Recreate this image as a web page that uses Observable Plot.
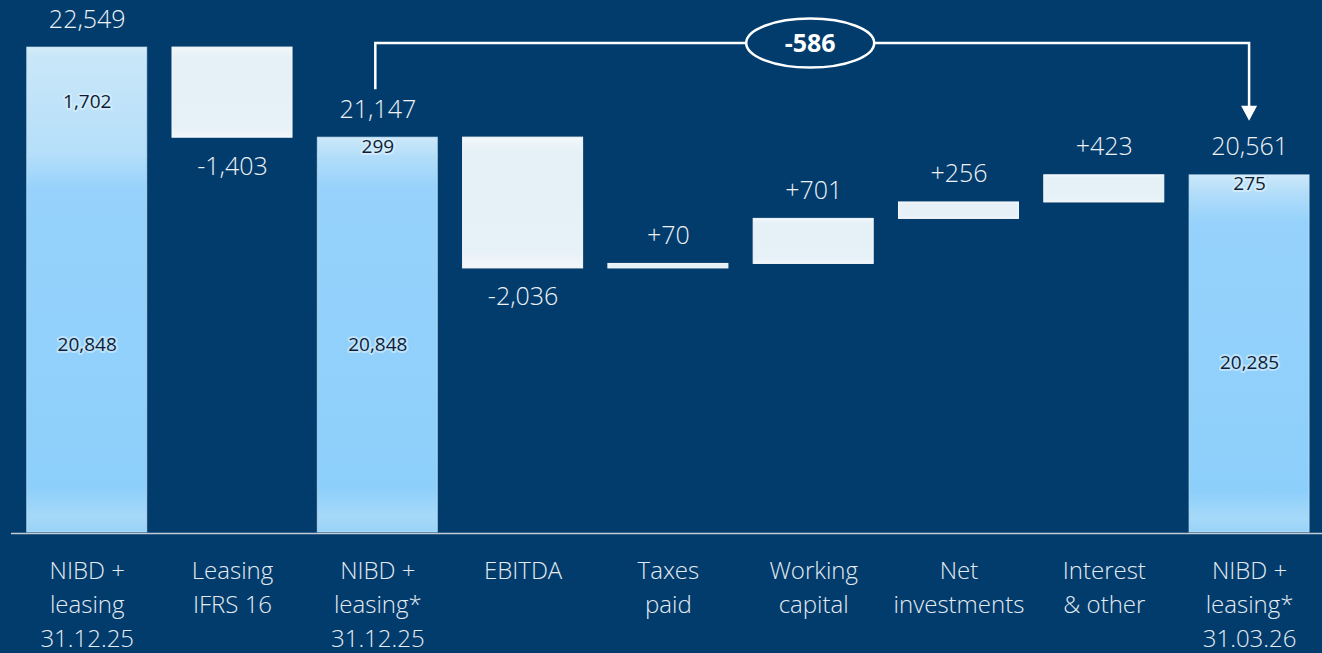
<!DOCTYPE html>
<html><head><meta charset="utf-8">
<script src="https://cdn.jsdelivr.net/npm/d3@7"></script>
<script src="https://cdn.jsdelivr.net/npm/@observablehq/plot@0.6"></script>
<style>
html,body{margin:0;padding:0;background:#023C6C;}
#chart{width:1322px;height:653px;overflow:hidden}
</style></head><body><div id="chart"></div>
<script>
// ---- data ----
const categories = [
  "NIBD +\nleasing\n31.12.25",
  "Leasing\nIFRS 16",
  "NIBD +\nleasing*\n31.12.25",
  "EBITDA",
  "Taxes\npaid",
  "Working\ncapital",
  "Net\ninvestments",
  "Interest\n& other",
  "NIBD +\nleasing*\n31.03.26"
];
const kinds = ["total","delta","total","delta","delta","delta","delta","delta","total"];
const totalValues   = [22549, null, 21147, null, null, null, null, null, 20561];
const baseValues    = [20848, null, 20848, null, null, null, null, null, 20285];
const leasingValues = [1702,  null, 299,   null, null, null, null, null, 275];
const deltaValues   = [null, -1403, null, -2036, 70, 701, 256, 423, null];
const axisStart = 15000;
const axisTop = 23282;

// ---- derived table ----
let running = 0;
const rows = categories.map((cat, i) => {
  if (kinds[i] === "total") {
    running = totalValues[i];
    return {cat, kind: "total", total: totalValues[i], base: baseValues[i], leasing: leasingValues[i]};
  }
  const y1 = running, y2 = running + deltaValues[i];
  running = y2;
  return {cat, kind: "delta", y1, y2, delta: deltaValues[i]};
});
const totals = rows.filter(d => d.kind === "total");
const deltas = rows.filter(d => d.kind === "delta");
const fmt = d3.format(",");
const signed = v => (v < 0 ? "-" : "+") + fmt(Math.abs(v));
const BG = "#023C6C";

const defsMark = () => {
  const defs = d3.create("svg:defs");
  const add = (id, stops) => {
    const g = defs.append("linearGradient").attr("id", id)
      .attr("x1", 0).attr("y1", 0).attr("x2", 0).attr("y2", 1);
    for (const [o, c] of stops) g.append("stop").attr("offset", o).attr("stop-color", c);
  };
  add("gTop", [["0%", "#D6ECF9"], ["8%", "#C9E7F9"], ["50%", "#C0E3F9"], ["100%", "#B4DEFA"]]);
  add("gBase", [["0%", "#B4DEFA"], ["9%", "#96D2FB"], ["88%", "#8DCFFB"], ["96%", "#A6D9F9"], ["100%", "#98D3F8"]]);
  add("gFloat", [["0%", "#F2F7FA"], ["12%", "#E5F0F7"], ["88%", "#E7F1F8"], ["100%", "#F3F7FA"]]);
  return defs.node();
};

const bracketMark = (index, scales) => {
  const x = scales.x, y = scales.y;
  const bw = typeof x.bandwidth === "function" ? x.bandwidth() : (x.bandwidth || 0);
  const from = totals[1], to = totals[totals.length - 1];
  const lx = x(from.cat) + bw / 2 - 2;
  const rx = x(to.cat) + bw / 2;
  const top = y(d3.max(totals, d => d.total)) - 4;
  const startY = y(from.total) - 48;
  const tipY = y(to.total) - 54;
  const g = d3.create("svg:g");
  g.append("path")
    .attr("d", `M${lx},${startY}V${top}H${rx}V${tipY - 13}`)
    .attr("fill", "none").attr("stroke", "white").attr("stroke-width", 2.5);
  g.append("path")
    .attr("d", `M${rx - 8},${tipY - 15}L${rx + 8},${tipY - 15}L${rx},${tipY}Z`)
    .attr("fill", "white");
  const cx = (lx + rx) / 2 - 2;
  g.append("ellipse").attr("cx", cx).attr("cy", top).attr("rx", 64).attr("ry", 24.5)
    .attr("fill", BG).attr("stroke", "white").attr("stroke-width", 2.5);
  g.append("text").attr("x", cx).attr("y", top).attr("dy", "0.35em")
    .attr("text-anchor", "middle").attr("fill", "white")
    .attr("font-size", 25).attr("font-weight", "bold")
    .attr("font-family", "'Open Sans', sans-serif")
    .text(signed(to.total - from.total));
  return g.node();
};

const chart = Plot.plot({
  width: 1322,
  height: 653,
  marginTop: 0,
  marginBottom: 121,
  marginLeft: 11,
  marginRight: 0,
  style: {background: BG, color: "white", fontFamily: "'Open Sans', sans-serif", overflow: "visible"},
  x: {domain: categories, paddingInner: 0.174, paddingOuter: 0.0985, align: 0.549, round: false, axis: null},
  y: {domain: [axisStart, axisTop], axis: null},
  marks: [
    defsMark,
    Plot.barY(totals, {x: "cat", y1: "base", y2: d => d.base + d.leasing, fill: "url(#gTop)"}),
    Plot.barY(totals, {x: "cat", y1: axisStart, y2: "base", insetTop: -1.5, fill: "url(#gBase)"}),
    Plot.barY(totals, {x: "cat", y1: axisStart, y2: "total", fill: "none", stroke: "#C8E6F8", strokeOpacity: 0.7, strokeWidth: 1}),
    Plot.barY(deltas, {x: "cat", y1: "y1", y2: "y2", fill: "url(#gFloat)", stroke: "#F6F9FB", strokeWidth: 1}),
    Plot.ruleY([axisStart], {stroke: "#C3CBD4", strokeWidth: 1.5, dy: 1}),
    // totals labels
    Plot.text(totals, {x: "cat", y: "total", text: d => fmt(d.total), dy: -28, fontSize: 25, fontWeight: 300, fill: "#EEF2F6"}),
    // delta labels
    Plot.text(deltas, {x: "cat", y: "y2", text: d => signed(d.delta), fontSize: 25, fontWeight: 300, fill: "#EEF2F6",
      filter: d => d.delta > 0, dy: -28}),
    Plot.text(deltas, {x: "cat", y: "y2", text: d => signed(d.delta), fontSize: 25, fontWeight: 300, fill: "#EEF2F6",
      filter: d => d.delta < 0, dy: 29}),
    // inner segment labels
    Plot.text(totals, {x: "cat", y: d => (axisStart + d.base) / 2, text: d => fmt(d.base), fontSize: 19,
      fontWeight: 500, fill: "#0F1E36", stroke: "#C8E7FB", strokeWidth: 4, strokeOpacity: 0.8}),
    Plot.text(totals, {x: "cat", y: d => d.base + d.leasing / 2, text: d => fmt(d.leasing), fontSize: 19,
      fontWeight: 500, fill: "#0F1E36", stroke: "#D6EEFB", strokeWidth: 4, strokeOpacity: 0.8}),
    // category labels
    Plot.text(rows, {x: "cat", y: axisStart, text: "cat", lineAnchor: "top", dy: 22, fontSize: 24,
      fontWeight: 300, lineHeight: 1.42, fill: "#E4EBF2"}),
    bracketMark
  ]
});
document.getElementById("chart").appendChild(chart);
</script>
</body></html>
